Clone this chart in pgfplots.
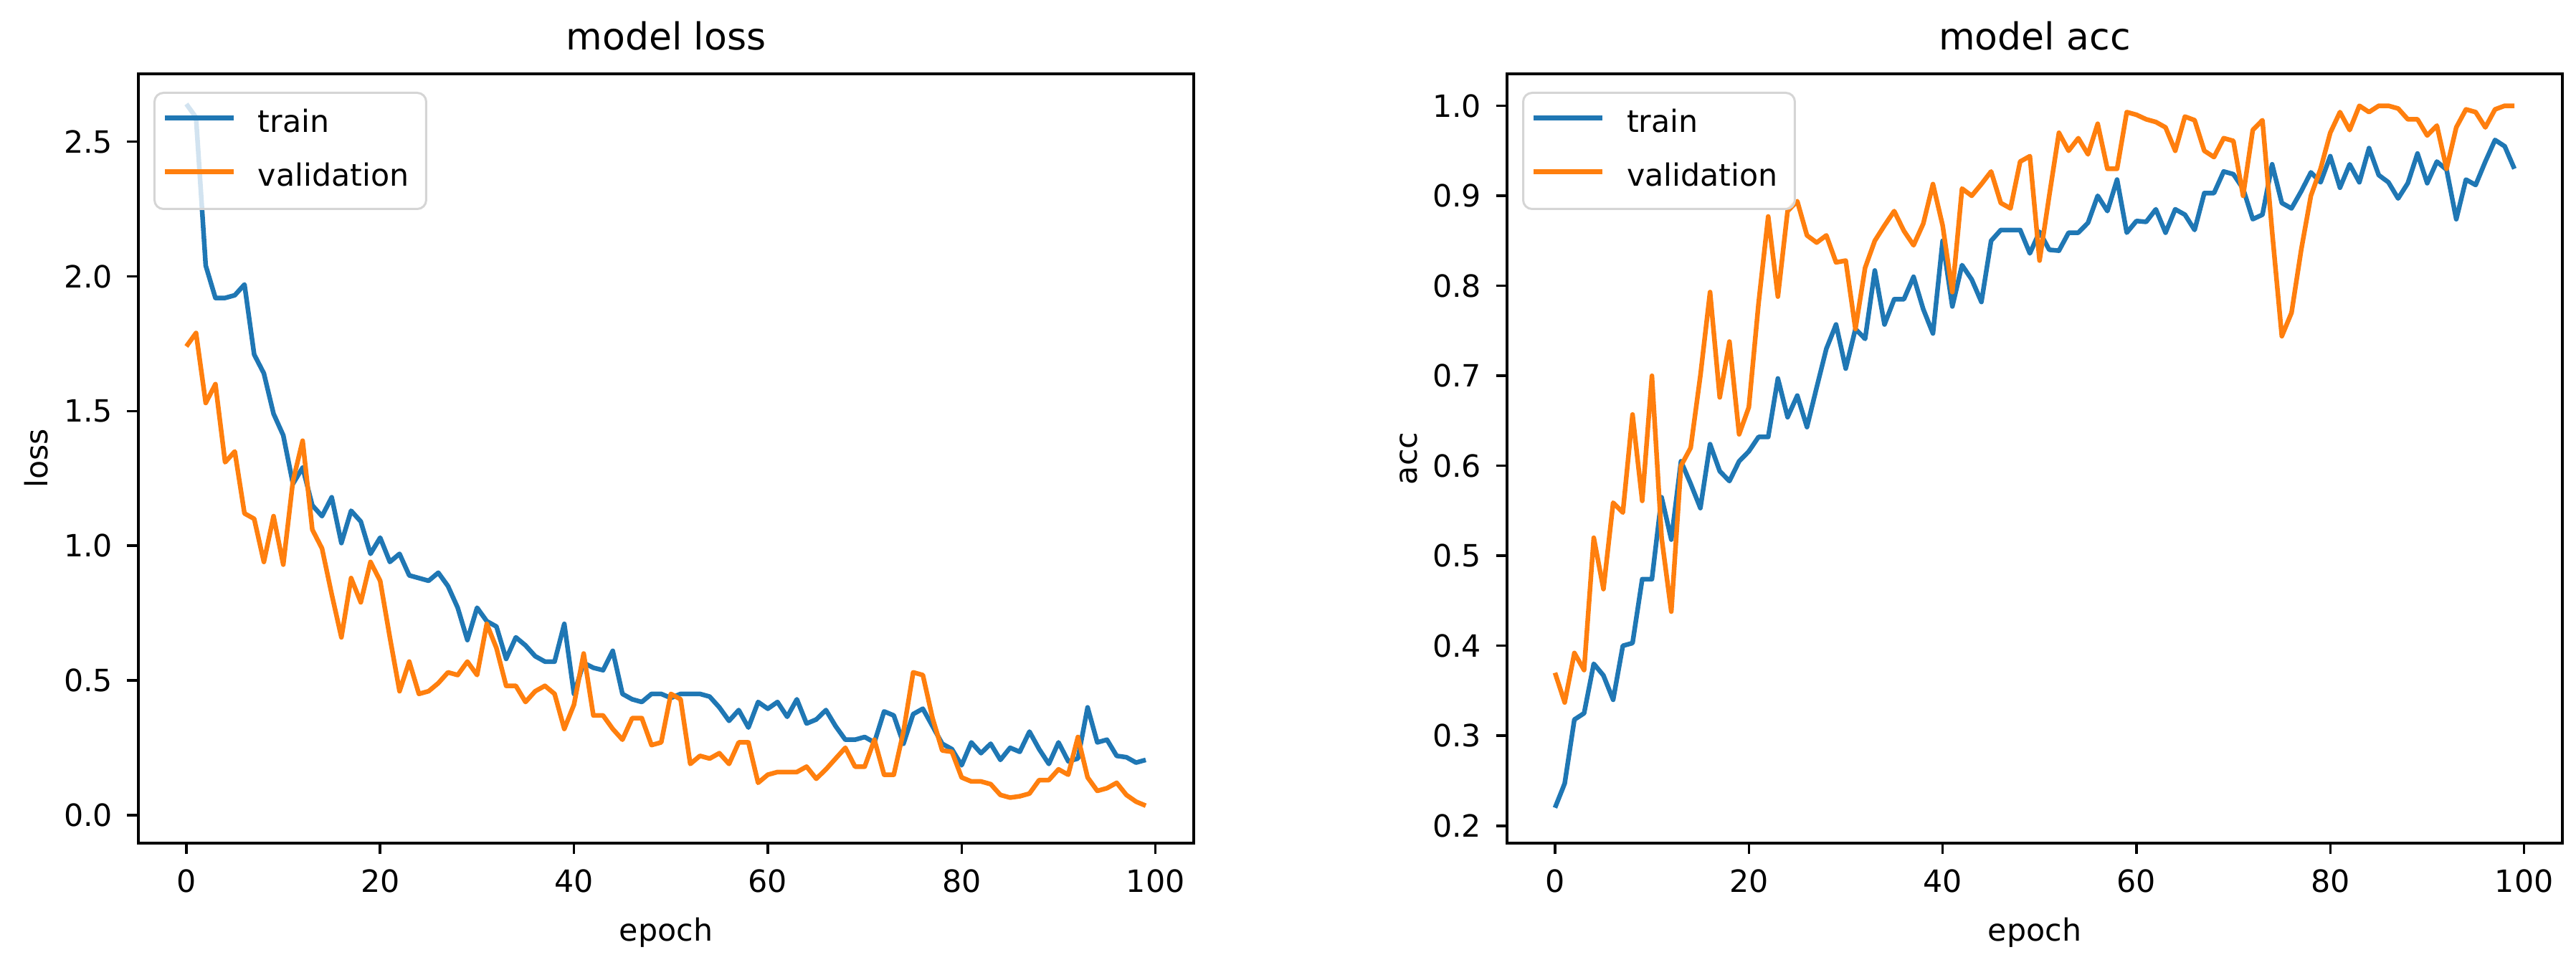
\documentclass[border=0pt]{standalone}
\usepackage{fontspec}
\setmainfont{DejaVu Sans}
\usepackage{pgfplots}
\usepackage{pgfplotstable}
\pgfplotsset{compat=1.18}

\definecolor{tabblue}{HTML}{1F77B4}
\definecolor{taborange}{HTML}{FF7F0E}
\definecolor{legframe}{HTML}{D5D5D5}

% epoch, train loss, validation loss
\pgfplotstableread{
e tr va
0 2.64 1.74
1 2.59 1.79
2 2.04 1.53
3 1.92 1.60
4 1.92 1.31
5 1.93 1.35
6 1.97 1.12
7 1.71 1.10
8 1.64 0.94
9 1.49 1.11
10 1.41 0.93
11 1.23 1.24
12 1.29 1.39
13 1.15 1.06
14 1.11 0.99
15 1.18 0.82
16 1.01 0.66
17 1.13 0.88
18 1.09 0.79
19 0.97 0.94
20 1.03 0.87
21 0.94 0.66
22 0.97 0.46
23 0.89 0.57
24 0.88 0.45
25 0.87 0.46
26 0.90 0.49
27 0.85 0.53
28 0.77 0.52
29 0.65 0.57
30 0.77 0.52
31 0.72 0.71
32 0.70 0.62
33 0.58 0.48
34 0.66 0.48
35 0.63 0.42
36 0.59 0.46
37 0.57 0.48
38 0.57 0.45
39 0.71 0.32
40 0.45 0.41
41 0.565 0.60
42 0.547 0.37
43 0.538 0.37
44 0.61 0.32
45 0.45 0.28
46 0.43 0.36
47 0.42 0.36
48 0.45 0.26
49 0.45 0.27
50 0.435 0.45
51 0.45 0.43
52 0.45 0.19
53 0.45 0.22
54 0.44 0.21
55 0.40 0.23
56 0.35 0.19
57 0.39 0.27
58 0.325 0.27
59 0.42 0.12
60 0.395 0.15
61 0.42 0.16
62 0.365 0.16
63 0.43 0.16
64 0.34 0.18
65 0.355 0.135
66 0.39 0.17
67 0.33 0.21
68 0.28 0.25
69 0.28 0.18
70 0.29 0.18
71 0.27 0.28
72 0.385 0.15
73 0.37 0.15
74 0.265 0.31
75 0.375 0.53
76 0.395 0.52
77 0.33 0.36
78 0.265 0.24
79 0.245 0.235
80 0.185 0.14
81 0.27 0.125
82 0.23 0.125
83 0.265 0.115
84 0.205 0.075
85 0.25 0.065
86 0.235 0.07
87 0.31 0.08
88 0.245 0.13
89 0.19 0.13
90 0.27 0.17
91 0.20 0.15
92 0.21 0.29
93 0.40 0.14
94 0.27 0.09
95 0.28 0.10
96 0.22 0.12
97 0.215 0.075
98 0.195 0.05
99 0.205 0.035
}\losstab

% epoch, train acc, validation acc
\pgfplotstableread{
e tr va
0 0.22 0.37
1 0.247 0.337
2 0.318 0.392
3 0.325 0.373
4 0.38 0.52
5 0.367 0.463
6 0.34 0.559
7 0.40 0.548
8 0.403 0.657
9 0.474 0.561
10 0.474 0.70
11 0.565 0.52
12 0.518 0.438
13 0.605 0.60
14 0.58 0.62
15 0.553 0.70
16 0.624 0.793
17 0.594 0.676
18 0.583 0.738
19 0.605 0.635
20 0.616 0.665
21 0.632 0.78
22 0.632 0.877
23 0.697 0.788
24 0.654 0.883
25 0.678 0.894
26 0.643 0.856
27 0.687 0.848
28 0.73 0.856
29 0.757 0.826
30 0.708 0.828
31 0.752 0.752
32 0.741 0.82
33 0.817 0.85
34 0.757 0.867
35 0.785 0.883
36 0.785 0.861
37 0.81 0.845
38 0.774 0.869
39 0.747 0.913
40 0.85 0.867
41 0.777 0.793
42 0.823 0.908
43 0.807 0.90
44 0.782 0.913
45 0.85 0.927
46 0.862 0.892
47 0.862 0.886
48 0.862 0.938
49 0.836 0.944
50 0.86 0.828
51 0.84 0.90
52 0.839 0.97
53 0.859 0.95
54 0.859 0.964
55 0.87 0.946
56 0.90 0.98
57 0.883 0.93
58 0.918 0.93
59 0.859 0.993
60 0.872 0.99
61 0.871 0.985
62 0.885 0.982
63 0.859 0.976
64 0.885 0.95
65 0.879 0.988
66 0.862 0.984
67 0.903 0.95
68 0.903 0.943
69 0.927 0.964
70 0.924 0.961
71 0.908 0.90
72 0.874 0.973
73 0.879 0.984
74 0.935 0.86
75 0.892 0.744
76 0.886 0.77
77 0.905 0.84
78 0.926 0.90
79 0.915 0.93
80 0.944 0.97
81 0.909 0.993
82 0.935 0.973
83 0.915 1.0
84 0.953 0.993
85 0.923 1.0
86 0.915 1.0
87 0.897 0.997
88 0.914 0.985
89 0.947 0.985
90 0.914 0.967
91 0.938 0.978
92 0.929 0.93
93 0.874 0.976
94 0.918 0.996
95 0.912 0.993
96 0.938 0.976
97 0.962 0.996
98 0.955 1.0
99 0.93 1.0
}\acctab

\pgfplotsset{
  mplaxis/.style={
    scale only axis,
    width=294.4pt, height=214.6pt,
    xmin=-4.95, xmax=103.95,
    xtick={0,20,40,60,80,100},
    tick pos=left,
    tick align=outside,
    major tick length=3.1pt,
    every tick/.style={black, line width=0.7pt},
    axis line style={black, line width=0.7pt},
    /pgf/number format/assume math mode=true,
    tick label style={font=\fontsize{8.55}{10}\selectfont, inner sep=0pt},
    xticklabel style={anchor=north, yshift=-4.1pt},
    yticklabel style={anchor=east, xshift=-3.9pt,
      /pgf/number format/.cd, fixed, fixed zerofill, precision=1},
    label style={font=\fontsize{8.55}{10}\selectfont},
    xlabel style={at={(0.5,0)}, anchor=base, yshift=-27.4pt},
    ylabel style={at={(0,0.5)}, anchor=base, yshift=25.2pt},
    title style={font=\fontsize{10.4}{12}\selectfont, at={(0.5,1)}, anchor=base, yshift=0.6pt},
    legend cell align=left,
    legend style={at={(0,1)}, anchor=north west, xshift=4.2pt, yshift=-5pt,
      draw=legframe, line width=0.6pt, rounded corners=2.5pt,
      fill=white, fill opacity=0.8, draw opacity=1, text opacity=1,
      font=\fontsize{8.55}{10}\selectfont,
      inner xsep=2.2pt, inner ysep=2pt, row sep=1.6pt, column sep=6.2pt,
      nodes={inner sep=0pt, text height=9pt, text depth=4.4pt},
      cells={anchor=west}},
    legend image code/.code={\draw[#1] (0pt,1.7pt) -- (19.2pt,1.7pt);},
    every axis plot/.append style={no markers, line width=1.3pt, line join=round},
  }
}

\begin{document}
\begin{tikzpicture}
\path[use as bounding box] (0,0) rectangle (718.6pt,267.8pt);

\begin{axis}[mplaxis,
  at={(38.6pt,32.6pt)}, anchor=south west,
  ymin=-0.104, ymax=2.752,
  ytick={0,0.5,1,1.5,2,2.5},
  title={model loss}, xlabel={epoch}, ylabel={loss}]
  \addplot[tabblue] table[x=e, y=tr] {\losstab};
  \addplot[taborange] table[x=e, y=va] {\losstab};
  \addlegendentry{train}
  \addlegendentry{validation\hspace*{2.6pt}}
\end{axis}

\begin{axis}[mplaxis,
  at={(420.4pt,32.6pt)}, anchor=south west,
  ymin=0.1807, ymax=1.0355,
  ytick={0.2,0.3,0.4,0.5,0.6,0.7,0.8,0.9,1.0},
  title={model acc}, xlabel={epoch}, ylabel={acc}]
  \addplot[tabblue] table[x=e, y=tr] {\acctab};
  \addplot[taborange] table[x=e, y=va] {\acctab};
  \addlegendentry{train}
  \addlegendentry{validation\hspace*{2.6pt}}
\end{axis}
\end{tikzpicture}
\end{document}
